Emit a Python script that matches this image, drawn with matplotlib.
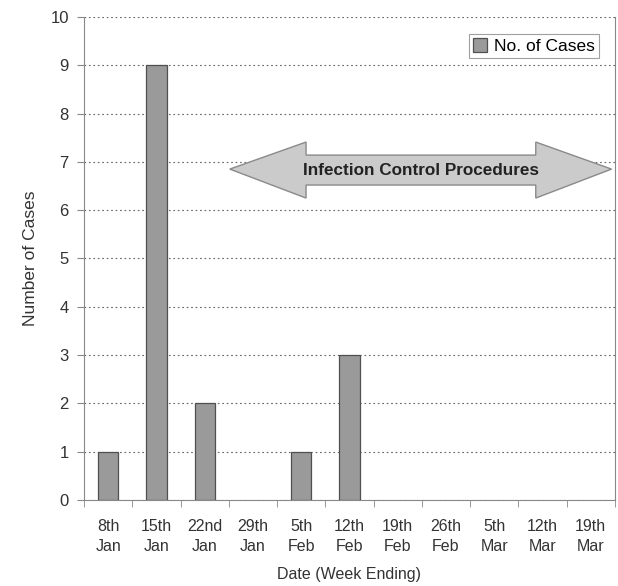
import numpy as np
import matplotlib.pyplot as plt
from matplotlib.patches import Polygon

plt.rcParams['font.family'] = ['Liberation Sans', 'DejaVu Sans']

# weekly case counts
weeks = ['8th\nJan', '15th\nJan', '22nd\nJan', '29th\nJan', '5th\nFeb', '12th\nFeb',
         '19th\nFeb', '26th\nFeb', '5th\nMar', '12th\nMar', '19th\nMar']
cases = [1, 9, 2, 0, 1, 3, 0, 0, 0, 0, 0]

fig = plt.figure(figsize=(6.18, 5.86), dpi=100)
ax = fig.add_axes([0.136, 0.147, 0.859, 0.824])

x = np.arange(len(weeks))
# no outline on empty weeks so the axis line stays clean
lw = [0.9 if c > 0 else 0 for c in cases]
ax.bar(x, cases, width=0.42, color='#9a9a9a', edgecolor='#505050', linewidth=lw,
       label='No. of Cases', zorder=3)

ax.set_xlim(-0.5, len(weeks) - 0.5)
ax.set_ylim(0, 10)
ax.set_yticks(range(0, 11))
ax.set_xticks(x)
ax.set_xticklabels(weeks, fontsize=11.5, color='#333333', linespacing=1.4)
ax.set_xticks(np.arange(-0.5, len(weeks)), minor=True)
ax.tick_params(axis='x', which='major', length=0, pad=14)
ax.tick_params(axis='x', which='minor', length=5, color='#888888')
ax.tick_params(axis='y', length=5, color='#888888', labelsize=12, labelcolor='#333333', pad=6)

ax.grid(axis='y', linestyle=(0, (1.5, 2.5)), color='#666666', linewidth=0.8, zorder=0)
for s in ['left', 'bottom', 'right']:
    ax.spines[s].set_color('#888888')
ax.spines['top'].set_visible(False)

ax.set_xlabel('Date (Week Ending)', fontsize=11.5, color='#333333', labelpad=9)
ax.set_ylabel('Number of Cases', fontsize=12.5, color='#333333', labelpad=9)

# double-headed arrow marking the period of infection control
arrow = [(2.52, 6.85), (4.1, 7.41), (4.1, 7.14), (8.86, 7.14), (8.86, 7.41),
         (10.43, 6.85), (8.86, 6.25), (8.86, 6.52), (4.1, 6.52), (4.1, 6.25)]
ax.add_patch(Polygon(arrow, closed=True, facecolor='#cbcbcb', edgecolor='#8a8a8a',
                     linewidth=1, zorder=4, clip_on=False))
ax.text(6.48, 6.83, 'Infection Control Procedures', ha='center', va='center',
        fontsize=12.3, fontweight='bold', color='#222222', zorder=5)

leg = ax.legend(loc='upper right', bbox_to_anchor=(0.97, 0.965), fontsize=12.5,
                frameon=True, fancybox=False, handlelength=0.8, handleheight=0.8,
                handletextpad=0.4, borderpad=0.25, borderaxespad=0)
leg.get_frame().set_edgecolor('#888888')
leg.get_frame().set_linewidth(0.8)

fig.savefig('out.png', dpi=100)
